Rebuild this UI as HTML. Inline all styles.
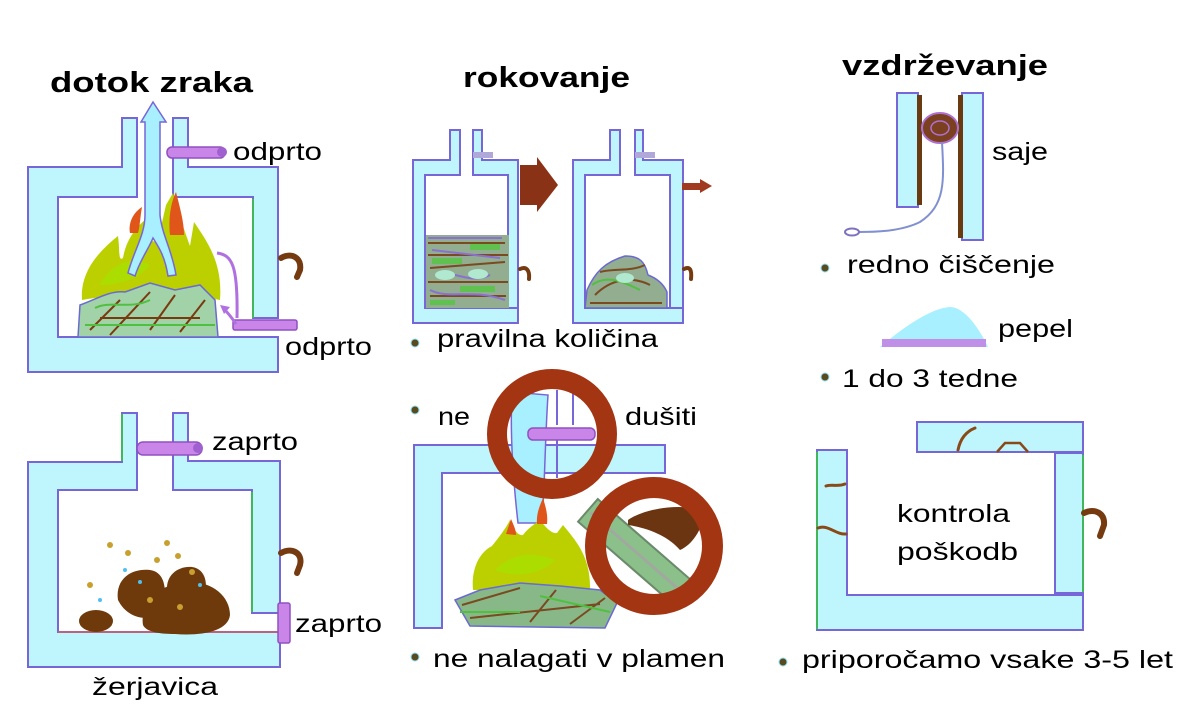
<!DOCTYPE html>
<html><head><meta charset="utf-8"><style>
html,body{margin:0;padding:0;background:#fff;}
svg{display:block;}
text{font-family:"Liberation Sans",Arial,sans-serif;fill:#000;}
.t{font-size:25px;}
.b{font-size:29px;font-weight:bold;}
.cy{fill:#bff6fd;stroke:#7766d8;stroke-width:2;}
.pv{fill:#c985e8;stroke:#9050c0;stroke-width:1.5;}
.hd{fill:none;stroke:#753a10;stroke-width:6;stroke-linecap:round;}
.br{fill:#6e3a0c;}
.crk{fill:none;stroke:#8a4a18;stroke-width:3;stroke-linecap:round;}
</style></head><body>
<svg width="1200" height="726" viewBox="0 0 1200 726" xmlns="http://www.w3.org/2000/svg">
<rect width="1200" height="726" fill="#fff"/>

<!-- ===== Titles ===== -->
<text class="b" x="50" y="92" textLength="203" lengthAdjust="spacingAndGlyphs">dotok zraka</text>
<text class="b" x="463" y="87" textLength="167" lengthAdjust="spacingAndGlyphs">rokovanje</text>
<text class="b" x="842" y="75" textLength="206" lengthAdjust="spacingAndGlyphs">vzdrževanje</text>

<!-- ===== Stove 1 (top-left) ===== -->
<path class="cy" d="M28,167 H122 V118 H137 V197 H58 V337 H278 V372 H28 Z"/>
<path class="cy" d="M173,118 H188 V167 H278 V318 H253 V197 H173 Z"/>
<line x1="253" y1="199" x2="253" y2="318" stroke="#30d030" stroke-width="1.5"/>
<!-- flames -->
<path d="M82,300 C80,272 98,252 118,236 C120,250 118,262 123,258 C126,240 136,226 150,216 C148,236 152,246 158,240 L166,205 173,193 C179,215 186,235 190,246 L194,222 C206,240 223,262 220,300 C200,296 180,290 160,298 C140,292 110,295 82,300 Z" fill="#bcd000"/>
<path d="M130,233 C128,222 134,212 142,207 C140,218 140,226 138,233 Z" fill="#e0561a"/>
<path d="M170,235 C168,215 172,200 176,192 C180,208 184,222 184,235 Z" fill="#e0561a"/>
<path d="M100,285 C110,265 130,255 150,265 C140,278 120,285 100,285 Z" fill="#a8e000" opacity="0.8"/>
<!-- logs -->
<path d="M78,337 L80,305 C95,300 110,290 125,292 L150,283 L175,290 L200,285 L215,300 L218,337 Z" fill="#a2d2a8" stroke="#6a6ad0" stroke-width="1.5"/>
<path d="M90,330 L120,300 M110,335 L150,292 M150,330 L175,295 M180,332 L205,300 M100,318 L200,318" stroke="#7a3a10" stroke-width="2" fill="none"/>
<path d="M85,325 H215 M95,308 C110,300 130,310 150,300" stroke="#50c040" stroke-width="2" fill="none"/>
<!-- air arrow up -->
<path d="M145,122 L141,122 L153,102 L166,122 L160,122 L160,215 C162,235 172,250 176,275 L168,276 C165,256 158,246 153,238 C148,250 140,260 135,276 L128,273 C134,250 145,235 145,215 Z" fill="#a8f0ff" stroke="#7766d8" stroke-width="1.5"/>
<!-- valve top -->
<rect class="pv" x="167" y="147" width="58" height="11" rx="5"/>
<circle cx="222" cy="152" r="5" fill="#a060d0"/>
<!-- lower intake -->
<rect class="pv" x="233" y="320" width="64" height="10" rx="2"/>
<path d="M217,253 C232,255 238,265 237,318" fill="none" stroke="#b070e0" stroke-width="3"/>
<path d="M236,324 C232,318 229,314 224,309" fill="none" stroke="#b070e0" stroke-width="3"/>
<path d="M220,305 L230,307 L224,314 Z" fill="#b070e0"/>
<path class="hd" d="M281,258 C292,252 302,258 300,270 L297,277"/>
<text class="t" x="233" y="160" textLength="89" lengthAdjust="spacingAndGlyphs">odprto</text>
<text class="t" x="285" y="355" textLength="87" lengthAdjust="spacingAndGlyphs">odprto</text>

<!-- ===== Stove 2 (bottom-left) ===== -->
<path class="cy" d="M28,462 H122 V413 H137 V490 H58 V632 H280 V667 H28 Z"/>
<path class="cy" d="M173,413 H188 V461 H280 V613 H252 V490 H173 Z"/>
<line x1="252" y1="492" x2="252" y2="612" stroke="#30d030" stroke-width="1.5"/>
<line x1="122" y1="414" x2="122" y2="461" stroke="#30d030" stroke-width="1.5"/>
<line x1="58" y1="632" x2="278" y2="632" stroke="#d06060" stroke-width="1.5"/>
<rect class="pv" x="137" y="442" width="65" height="13" rx="6"/>
<circle cx="198" cy="448" r="5" fill="#a060d0"/>
<rect class="pv" x="278" y="603" width="12" height="40" rx="2"/>
<path class="hd" d="M281,553 C292,547 303,553 300,565 L297,573"/>
<!-- embers -->
<ellipse class="br" cx="96" cy="621" rx="17" ry="11"/>
<path class="br" d="M118,600 C115,580 130,568 150,570 C165,572 168,590 162,612 C150,622 128,620 118,600 Z"/>
<path class="br" d="M143,625 C140,600 160,585 185,582 C210,580 230,595 230,615 C228,632 200,636 175,634 C160,634 146,632 143,625 Z"/>
<path class="br" d="M167,590 C166,575 178,566 192,567 C206,569 209,585 203,600 C190,606 172,604 167,590 Z"/>
<g fill="#c8a030">
<circle cx="110" cy="545" r="3"/><circle cx="128" cy="553" r="3"/><circle cx="167" cy="543" r="3"/>
<circle cx="157" cy="560" r="3"/><circle cx="178" cy="556" r="3"/><circle cx="90" cy="585" r="3"/>
<circle cx="192" cy="572" r="3"/><circle cx="150" cy="600" r="3"/><circle cx="180" cy="607" r="3"/>
</g>
<g fill="#50c0f0"><circle cx="100" cy="600" r="2"/><circle cx="140" cy="582" r="2"/><circle cx="200" cy="585" r="2"/><circle cx="125" cy="570" r="2"/></g>
<text class="t" x="212" y="450" textLength="86" lengthAdjust="spacingAndGlyphs">zaprto</text>
<text class="t" x="295" y="632" textLength="87" lengthAdjust="spacingAndGlyphs">zaprto</text>
<text class="t" x="92" y="695" textLength="126" lengthAdjust="spacingAndGlyphs">žerjavica</text>

<!-- ===== Stove 3A ===== -->
<path class="cy" d="M413,160 H450 V130 H460 V175 H425 V308 H518 V323 H413 Z"/>
<path class="cy" d="M473,130 H482 V160 H518 V308 H508 V175 H473 Z"/>
<rect x="473" y="152" width="20" height="6" fill="#b0a8d8"/>
<path d="M520,165 H537 V157 L558,185 L537,212 V205 H520 Z" fill="#8a3215"/>
<path class="hd" style="stroke-width:4" d="M520,269 C526,266 530,270 529,279"/>
<rect x="426" y="235" width="83" height="73" fill="#92ad90"/>
<g stroke="#7a4a20" stroke-width="2" fill="none">
<path d="M428,243 H505 M428,255 H508 M430,268 L505,262 M428,282 H508 M430,296 H506"/>
</g>
<g stroke="#8a70d0" stroke-width="2" fill="none">
<path d="M428,238 H502 M432,250 L500,258 M440,275 C455,270 470,285 490,275 M430,290 C450,300 470,288 505,300"/>
</g>
<g fill="#60c050"><rect x="432" y="258" width="30" height="6"/><rect x="470" y="244" width="30" height="6"/><rect x="460" y="286" width="35" height="6"/><rect x="430" y="300" width="25" height="5"/></g>
<g fill="#b0e8d0"><ellipse cx="445" cy="275" rx="10" ry="5"/><ellipse cx="478" cy="274" rx="10" ry="5"/></g>

<!-- ===== Stove 3B ===== -->
<path class="cy" d="M573,160 H610 V130 H620 V175 H585 V308 H683 V323 H573 Z"/>
<path class="cy" d="M635,130 H643 V160 H683 V308 H670 V175 H635 Z"/>
<rect x="635" y="152" width="20" height="6" fill="#b0a8d8"/>
<path d="M682,183 H700 V179 L712,186 L700,193 V190 H682 Z" fill="#a03a20"/>
<path class="hd" style="stroke-width:4" d="M684,269 C690,266 692,270 691,279"/>
<path d="M585,308 L587,290 C595,272 605,262 625,256 C640,256 645,262 648,275 C656,278 663,283 667,292 V308 Z" fill="#92ad90" stroke="#6a6ad0" stroke-width="1.5"/>
<path d="M595,295 C610,280 630,275 650,285 M600,272 C615,268 630,272 645,265 M590,303 H662" stroke="#7a4a20" stroke-width="2" fill="none"/>
<path d="M592,285 C605,275 620,280 640,290" stroke="#50c040" stroke-width="2" fill="none"/>
<ellipse cx="625" cy="278" rx="9" ry="5" fill="#b0e8d0"/>
<text class="t" x="437" y="347" textLength="221" lengthAdjust="spacingAndGlyphs">pravilna količina</text>

<!-- ===== Stove 4 (rokovanje bottom) ===== -->
<path class="cy" d="M414,445 H665 V473 H442 V628 H414 Z"/>
<path d="M512,392 C510,430 512,470 518,523 L542,523 C545,480 545,440 548,395 Z" fill="#a8f0ff" stroke="#7766d8" stroke-width="1.5"/>
<path d="M557,390 V425 M573,390 V425 M557,440 V478" stroke="#7766d8" stroke-width="2" fill="none"/>
<rect class="pv" x="528" y="428" width="67" height="12" rx="5"/>
<!-- fire -->
<path d="M473,590 C471,568 480,552 492,546 C500,536 506,528 510,520 C514,530 518,536 523,535 C528,528 535,524 540,520 C546,528 552,534 557,533 L563,525 C575,540 591,556 590,590 Z" fill="#bcd000"/>
<path d="M506,534 L511,519 C514,526 516,530 516,535 Z" fill="#e0561a"/>
<path d="M537,524 C536,514 540,505 543,498 C546,508 548,515 547,524 Z" fill="#e0561a"/>
<path d="M495,570 C510,555 530,550 555,560 C540,575 515,578 495,570 Z" fill="#a8e000" opacity="0.8"/>
<path d="M455,600 L480,590 L520,583 L560,586 L600,590 L617,603 L605,628 L470,626 Z" fill="#88b888" stroke="#6a6ad0" stroke-width="1.5"/>
<path d="M462,605 L520,588 M470,618 L600,604 M530,622 L556,590 M570,624 L605,598" stroke="#7a4a20" stroke-width="2" fill="none"/>
<path d="M460,612 H520 M540,596 L610,612" stroke="#50c040" stroke-width="2" fill="none"/>
<!-- circle 2 contents -->
<g transform="rotate(41 637 553)"><rect x="572" y="538" width="130" height="30" fill="#8cc08a" stroke="#6a8a6a" stroke-width="2"/><line x1="575" y1="553" x2="700" y2="553" stroke="#a0a8a0" stroke-width="3"/></g>
<path d="M628,520 C645,508 685,502 705,512 C702,530 692,545 680,550 C668,536 648,528 628,525 Z" fill="#6a3510"/>
<circle cx="654" cy="546" r="58.5" fill="none" stroke="#a33512" stroke-width="21"/>
<circle cx="552" cy="434" r="55" fill="none" stroke="#a33512" stroke-width="20"/>
<text class="t" x="438" y="425" textLength="32" lengthAdjust="spacingAndGlyphs">ne</text>
<text class="t" x="625" y="425" textLength="72" lengthAdjust="spacingAndGlyphs">dušiti</text>
<text class="t" x="433" y="667" textLength="292" lengthAdjust="spacingAndGlyphs">ne nalagati v plamen</text>

<!-- ===== vzdrževanje: chimney brush ===== -->
<rect class="cy" x="897" y="93" width="21" height="114"/>
<rect x="917" y="95" width="5" height="110" fill="#6a3a10"/>
<rect class="cy" x="962" y="93" width="21" height="147"/>
<rect x="958" y="95" width="5" height="143" fill="#6a3a10"/>
<ellipse cx="940" cy="128" rx="18" ry="15" fill="#7a4020" stroke="#b070d0" stroke-width="2"/>
<ellipse cx="940" cy="128" rx="9" ry="7" fill="none" stroke="#b070d0" stroke-width="1.5"/>
<path d="M942,142 C944,180 946,205 920,222 C900,232 872,232 858,232" fill="none" stroke="#8090d0" stroke-width="2"/>
<ellipse cx="852" cy="232" rx="7" ry="3.5" fill="none" stroke="#8070c0" stroke-width="2"/>
<text class="t" x="992" y="160" textLength="56" lengthAdjust="spacingAndGlyphs">saje</text>
<text class="t" x="847" y="273" textLength="208" lengthAdjust="spacingAndGlyphs">redno čiščenje</text>
<!-- pepel -->
<path d="M880,347 C900,330 930,308 950,307 C965,307 980,330 988,347 Z" fill="#a8f0ff"/>
<rect x="882" y="339" width="104" height="8" fill="#c090e8"/>
<text class="t" x="998" y="337" textLength="75" lengthAdjust="spacingAndGlyphs">pepel</text>
<text class="t" x="842" y="387" textLength="176" lengthAdjust="spacingAndGlyphs">1 do 3 tedne</text>

<!-- ===== kontrola poškodb ===== -->
<rect class="cy" x="917" y="422" width="166" height="30"/>
<rect class="cy" x="1055" y="453" width="28" height="140"/>
<path class="cy" d="M817,450 H847 V595 H1083 V630 H817 Z"/>
<line x1="817" y1="452" x2="817" y2="629" stroke="#30d030" stroke-width="1.5"/>
<line x1="1083" y1="455" x2="1083" y2="592" stroke="#30d030" stroke-width="1.5"/>
<path class="crk" d="M958,450 C960,440 965,432 975,428"/>
<path d="M997,452 L1005,443 H1020 L1028,452" fill="none" stroke="#8a4a18" stroke-width="2.5"/>
<path class="crk" d="M826,486 C832,484 838,487 845,484"/>
<path class="crk" d="M818,528 C828,524 836,535 846,534"/>
<path class="hd" d="M1084,513 C1095,508 1105,513 1104,525 L1100,536"/>
<text class="t" x="897" y="522" textLength="113" lengthAdjust="spacingAndGlyphs">kontrola</text>
<text class="t" x="897" y="560" textLength="121" lengthAdjust="spacingAndGlyphs">poškodb</text>
<text class="t" x="802" y="668" textLength="371" lengthAdjust="spacingAndGlyphs">priporočamo vsake 3-5 let</text>

<!-- bullets -->
<g fill="#5a4a20" stroke="#90e0f0" stroke-width="1">
<circle cx="415" cy="343" r="4"/><circle cx="415" cy="410" r="4"/><circle cx="415" cy="657" r="4"/>
<circle cx="825" cy="268" r="4"/><circle cx="825" cy="377" r="4"/><circle cx="783" cy="662" r="4"/>
</g>
</svg>
</body></html>
